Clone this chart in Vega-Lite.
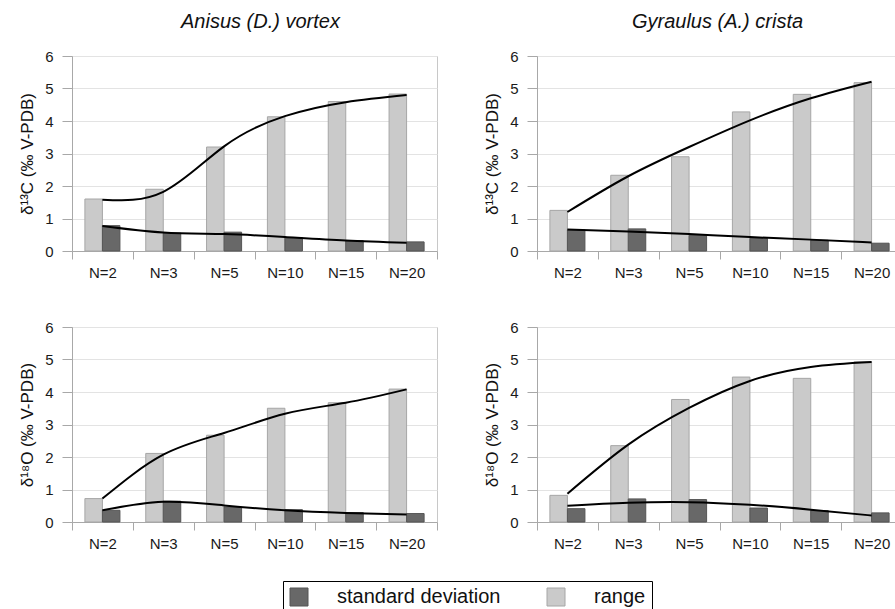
{
  "$schema": "https://vega.github.io/schema/vega-lite/v6.json",
  "padding": {"left": 18, "top": 11, "right": 5, "bottom": 5},
  "background": "white",
  "data": {"values": [
    {"p":"a13","N":"N=2","s":"range","v":1.6,"t":1.58},
    {"p":"a13","N":"N=2","s":"standard deviation","v":0.78,"t":0.77},
    {"p":"a13","N":"N=3","s":"range","v":1.9,"t":1.82},
    {"p":"a13","N":"N=3","s":"standard deviation","v":0.55,"t":0.57},
    {"p":"a13","N":"N=5","s":"range","v":3.2,"t":3.22},
    {"p":"a13","N":"N=5","s":"standard deviation","v":0.58,"t":0.52},
    {"p":"a13","N":"N=10","s":"range","v":4.13,"t":4.15},
    {"p":"a13","N":"N=10","s":"standard deviation","v":0.41,"t":0.43},
    {"p":"a13","N":"N=15","s":"range","v":4.6,"t":4.58},
    {"p":"a13","N":"N=15","s":"standard deviation","v":0.32,"t":0.32},
    {"p":"a13","N":"N=20","s":"range","v":4.83,"t":4.8},
    {"p":"a13","N":"N=20","s":"standard deviation","v":0.28,"t":0.25},
    {"p":"g13","N":"N=2","s":"range","v":1.25,"t":1.2},
    {"p":"g13","N":"N=2","s":"standard deviation","v":0.65,"t":0.66},
    {"p":"g13","N":"N=3","s":"range","v":2.33,"t":2.3},
    {"p":"g13","N":"N=3","s":"standard deviation","v":0.68,"t":0.6},
    {"p":"g13","N":"N=5","s":"range","v":2.9,"t":3.2},
    {"p":"g13","N":"N=5","s":"standard deviation","v":0.48,"t":0.52},
    {"p":"g13","N":"N=10","s":"range","v":4.28,"t":4.02},
    {"p":"g13","N":"N=10","s":"standard deviation","v":0.39,"t":0.43},
    {"p":"g13","N":"N=15","s":"range","v":4.82,"t":4.7},
    {"p":"g13","N":"N=15","s":"standard deviation","v":0.33,"t":0.35},
    {"p":"g13","N":"N=20","s":"range","v":5.18,"t":5.21},
    {"p":"g13","N":"N=20","s":"standard deviation","v":0.24,"t":0.26},
    {"p":"a18","N":"N=2","s":"range","v":0.72,"t":0.72},
    {"p":"a18","N":"N=2","s":"standard deviation","v":0.36,"t":0.36},
    {"p":"a18","N":"N=3","s":"range","v":2.11,"t":2.07},
    {"p":"a18","N":"N=3","s":"standard deviation","v":0.64,"t":0.62},
    {"p":"a18","N":"N=5","s":"range","v":2.67,"t":2.74},
    {"p":"a18","N":"N=5","s":"standard deviation","v":0.46,"t":0.51},
    {"p":"a18","N":"N=10","s":"range","v":3.5,"t":3.33},
    {"p":"a18","N":"N=10","s":"standard deviation","v":0.38,"t":0.36},
    {"p":"a18","N":"N=15","s":"range","v":3.67,"t":3.67},
    {"p":"a18","N":"N=15","s":"standard deviation","v":0.29,"t":0.28},
    {"p":"a18","N":"N=20","s":"range","v":4.09,"t":4.08},
    {"p":"a18","N":"N=20","s":"standard deviation","v":0.26,"t":0.23},
    {"p":"g18","N":"N=2","s":"range","v":0.82,"t":0.87},
    {"p":"g18","N":"N=2","s":"standard deviation","v":0.41,"t":0.5},
    {"p":"g18","N":"N=3","s":"range","v":2.35,"t":2.38},
    {"p":"g18","N":"N=3","s":"standard deviation","v":0.71,"t":0.59},
    {"p":"g18","N":"N=5","s":"range","v":3.77,"t":3.51},
    {"p":"g18","N":"N=5","s":"standard deviation","v":0.69,"t":0.61},
    {"p":"g18","N":"N=10","s":"range","v":4.46,"t":4.34},
    {"p":"g18","N":"N=10","s":"standard deviation","v":0.43,"t":0.53},
    {"p":"g18","N":"N=15","s":"range","v":4.42,"t":4.77},
    {"p":"g18","N":"N=15","s":"standard deviation","v":0.35,"t":0.38},
    {"p":"g18","N":"N=20","s":"range","v":4.93,"t":4.92},
    {"p":"g18","N":"N=20","s":"standard deviation","v":0.28,"t":0.2}
  ]},
  "columns": 2,
  "spacing": {"row": 76, "column": 100},
  "bounds": "flush",
  "concat": [
    {
      "width": 365, "height": 195,
      "title": {"text": "Anisus (D.) vortex", "dx": 6},
      "transform": [{"filter": "datum.p === 'a13'"}],
      "layer": [
        {"mark": {"type": "bar", "strokeWidth": 1},
         "encoding": {
           "x": {"field": "N", "type": "nominal", "sort": ["N=2","N=3","N=5","N=10","N=15","N=20"], "scale": {"paddingInner": 0, "paddingOuter": 0}, "axis": {"title": null}},
           "xOffset": {"field": "s", "type": "nominal", "sort": ["range","standard deviation"], "scale": {"paddingInner": 0, "paddingOuter": 0.737}},
           "y": {"field": "v", "type": "quantitative", "scale": {"domain": [0, 6], "nice": false}, "axis": {"title": "δ¹³C (‰ V-PDB)", "values": [0,1,2,3,4,5,6]}},
           "color": {"field": "s", "type": "nominal", "scale": {"domain": ["standard deviation","range"], "range": ["#686868","#cacaca"]}, "legend": {"title": null, "orient": "none", "legendX": 211, "legendY": 525, "direction": "horizontal"}},
           "stroke": {"field": "s", "type": "nominal", "scale": {"domain": ["standard deviation","range"], "range": ["#555555","#a6a6a6"]}, "legend": {"title": null, "orient": "none", "legendX": 211, "legendY": 525, "direction": "horizontal"}}
         }},
        {"mark": {"type": "line", "interpolate": "natural", "color": "#000000", "strokeWidth": 2},
         "encoding": {
           "x": {"field": "N", "type": "nominal", "sort": ["N=2","N=3","N=5","N=10","N=15","N=20"], "axis": {"title": null}},
           "y": {"field": "t", "type": "quantitative", "axis": {"title": "δ¹³C (‰ V-PDB)", "values": [0,1,2,3,4,5,6]}},
           "detail": {"field": "s", "type": "nominal"}
         }}
      ]
    },
    {
      "width": 365, "height": 195,
      "title": {"text": "Gyraulus (A.) crista", "dx": -2},
      "transform": [{"filter": "datum.p === 'g13'"}],
      "layer": [
        {"mark": {"type": "bar", "strokeWidth": 1},
         "encoding": {
           "x": {"field": "N", "type": "nominal", "sort": ["N=2","N=3","N=5","N=10","N=15","N=20"], "scale": {"paddingInner": 0, "paddingOuter": 0}, "axis": {"title": null}},
           "xOffset": {"field": "s", "type": "nominal", "sort": ["range","standard deviation"], "scale": {"paddingInner": 0, "paddingOuter": 0.737}},
           "y": {"field": "v", "type": "quantitative", "scale": {"domain": [0, 6], "nice": false}, "axis": {"title": "δ¹³C (‰ V-PDB)", "values": [0,1,2,3,4,5,6]}},
           "color": {"field": "s", "type": "nominal", "scale": {"domain": ["standard deviation","range"], "range": ["#686868","#cacaca"]}, "legend": {"title": null, "orient": "none", "legendX": 211, "legendY": 525, "direction": "horizontal"}},
           "stroke": {"field": "s", "type": "nominal", "scale": {"domain": ["standard deviation","range"], "range": ["#555555","#a6a6a6"]}, "legend": {"title": null, "orient": "none", "legendX": 211, "legendY": 525, "direction": "horizontal"}}
         }},
        {"mark": {"type": "line", "interpolate": "natural", "color": "#000000", "strokeWidth": 2},
         "encoding": {
           "x": {"field": "N", "type": "nominal", "sort": ["N=2","N=3","N=5","N=10","N=15","N=20"], "axis": {"title": null}},
           "y": {"field": "t", "type": "quantitative", "axis": {"title": "δ¹³C (‰ V-PDB)", "values": [0,1,2,3,4,5,6]}},
           "detail": {"field": "s", "type": "nominal"}
         }}
      ]
    },
    {
      "width": 365, "height": 195,
      "transform": [{"filter": "datum.p === 'a18'"}],
      "layer": [
        {"mark": {"type": "bar", "strokeWidth": 1},
         "encoding": {
           "x": {"field": "N", "type": "nominal", "sort": ["N=2","N=3","N=5","N=10","N=15","N=20"], "scale": {"paddingInner": 0, "paddingOuter": 0}, "axis": {"title": null}},
           "xOffset": {"field": "s", "type": "nominal", "sort": ["range","standard deviation"], "scale": {"paddingInner": 0, "paddingOuter": 0.737}},
           "y": {"field": "v", "type": "quantitative", "scale": {"domain": [0, 6], "nice": false}, "axis": {"title": "δ¹⁸O (‰ V-PDB)", "values": [0,1,2,3,4,5,6]}},
           "color": {"field": "s", "type": "nominal", "scale": {"domain": ["standard deviation","range"], "range": ["#686868","#cacaca"]}, "legend": {"title": null, "orient": "none", "legendX": 211, "legendY": 525, "direction": "horizontal"}},
           "stroke": {"field": "s", "type": "nominal", "scale": {"domain": ["standard deviation","range"], "range": ["#555555","#a6a6a6"]}, "legend": {"title": null, "orient": "none", "legendX": 211, "legendY": 525, "direction": "horizontal"}}
         }},
        {"mark": {"type": "line", "interpolate": "natural", "color": "#000000", "strokeWidth": 2},
         "encoding": {
           "x": {"field": "N", "type": "nominal", "sort": ["N=2","N=3","N=5","N=10","N=15","N=20"], "axis": {"title": null}},
           "y": {"field": "t", "type": "quantitative", "axis": {"title": "δ¹⁸O (‰ V-PDB)", "values": [0,1,2,3,4,5,6]}},
           "detail": {"field": "s", "type": "nominal"}
         }}
      ]
    },
    {
      "width": 365, "height": 195,
      "transform": [{"filter": "datum.p === 'g18'"}],
      "layer": [
        {"mark": {"type": "bar", "strokeWidth": 1},
         "encoding": {
           "x": {"field": "N", "type": "nominal", "sort": ["N=2","N=3","N=5","N=10","N=15","N=20"], "scale": {"paddingInner": 0, "paddingOuter": 0}, "axis": {"title": null}},
           "xOffset": {"field": "s", "type": "nominal", "sort": ["range","standard deviation"], "scale": {"paddingInner": 0, "paddingOuter": 0.737}},
           "y": {"field": "v", "type": "quantitative", "scale": {"domain": [0, 6], "nice": false}, "axis": {"title": "δ¹⁸O (‰ V-PDB)", "values": [0,1,2,3,4,5,6]}},
           "color": {"field": "s", "type": "nominal", "scale": {"domain": ["standard deviation","range"], "range": ["#686868","#cacaca"]}, "legend": {"title": null, "orient": "none", "legendX": 211, "legendY": 525, "direction": "horizontal"}},
           "stroke": {"field": "s", "type": "nominal", "scale": {"domain": ["standard deviation","range"], "range": ["#555555","#a6a6a6"]}, "legend": {"title": null, "orient": "none", "legendX": 211, "legendY": 525, "direction": "horizontal"}}
         }},
        {"mark": {"type": "line", "interpolate": "natural", "color": "#000000", "strokeWidth": 2},
         "encoding": {
           "x": {"field": "N", "type": "nominal", "sort": ["N=2","N=3","N=5","N=10","N=15","N=20"], "axis": {"title": null}},
           "y": {"field": "t", "type": "quantitative", "axis": {"title": "δ¹⁸O (‰ V-PDB)", "values": [0,1,2,3,4,5,6]}},
           "detail": {"field": "s", "type": "nominal"}
         }}
      ]
    }
  ],
  "config": {
    "font": "Liberation Sans",
    "view": {"stroke": "#c8c8c8", "strokeWidth": 1},
    "title": {"font": "Liberation Sans", "fontSize": 20, "fontStyle": "italic", "fontWeight": "normal", "color": "#111111", "anchor": "middle", "frame": "group", "baseline": "alphabetic", "offset": 17},
    "axis": {"labelFont": "Liberation Sans", "labelFontSize": 15, "labelColor": "#1a1a1a", "domainColor": "#a8a8a8", "tickColor": "#a8a8a8", "gridColor": "#e3e3e3", "titleFont": "Liberation Sans", "titleColor": "#111111", "titleFontWeight": "normal", "labelOverlap": false},
    "axisX": {"tickBand": "extent", "tickSize": 8, "labelPadding": 6, "grid": false, "labelAngle": 0},
    "axisY": {"tickSize": 10, "labelPadding": 9, "titleFontSize": 17, "titlePadding": 8, "grid": true},
    "legend": {"strokeColor": "#000000", "padding": 6, "symbolType": "square", "symbolSize": 324, "symbolStrokeWidth": 1, "labelFont": "Liberation Sans", "labelFontSize": 20, "labelColor": "#111111", "labelOffset": 28, "columnPadding": 44, "labelLimit": 0}
  }
}
